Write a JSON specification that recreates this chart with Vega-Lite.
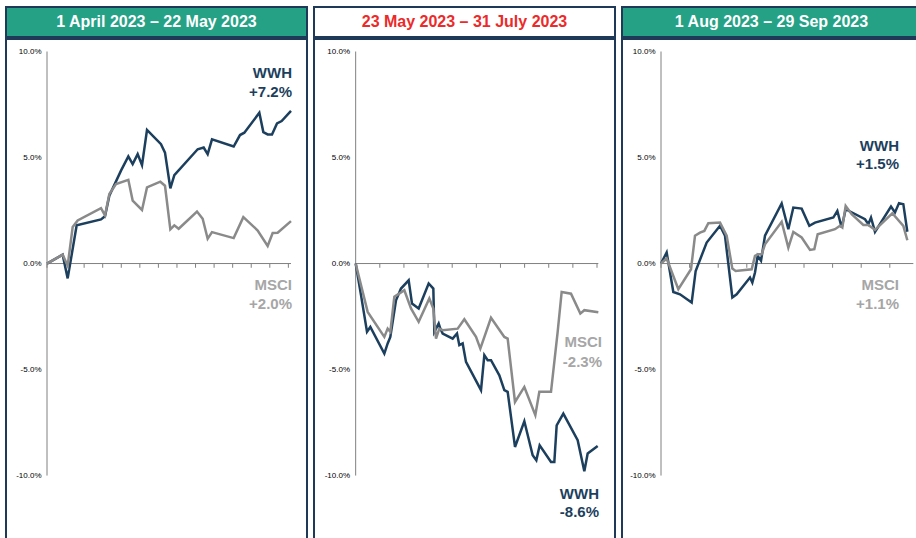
{
  "$schema": "https://vega.github.io/schema/vega-lite/v6.json",
  "background": "white",
  "padding": {"left": 5, "top": 6, "right": 0, "bottom": 0},
  "config": {"font": "Liberation Sans", "view": {"stroke": null}},
  "datasets": {
    "headers": [
      {"p": 1, "label": "1 April 2023 – 22 May 2023"},
      {"p": 2, "label": "23 May 2023 – 31 July 2023"},
      {"p": 3, "label": "1 Aug 2023 – 29 Sep 2023"}
    ],
    "ticks": [
      {"p": 1, "t": 0}, {"p": 1, "t": 55.7}, {"p": 1, "t": 111.4}, {"p": 1, "t": 167.1}, {"p": 1, "t": 222.8}, {"p": 1, "t": 278.5}, {"p": 1, "t": 334.2}, {"p": 1, "t": 389.9}, {"p": 1, "t": 445.6}, {"p": 1, "t": 501.3}, {"p": 1, "t": 557}, {"p": 1, "t": 612.7}, {"p": 1, "t": 668.4}, {"p": 1, "t": 724.1},
      {"p": 2, "t": 0}, {"p": 2, "t": 72.4}, {"p": 2, "t": 144.8}, {"p": 2, "t": 217.2}, {"p": 2, "t": 289.6}, {"p": 2, "t": 362}, {"p": 2, "t": 434.4}, {"p": 2, "t": 506.8}, {"p": 2, "t": 579.2}, {"p": 2, "t": 651.6}, {"p": 2, "t": 724},
      {"p": 3, "t": 0}, {"p": 3, "t": 85.8}, {"p": 3, "t": 171.6}, {"p": 3, "t": 257.4}, {"p": 3, "t": 343.2}, {"p": 3, "t": 429}, {"p": 3, "t": 514.8}, {"p": 3, "t": 600.6}, {"p": 3, "t": 686.4}
    ],
    "labels": [
      {"p": 1, "s": "WWH", "t": 735, "v": 8.97, "text": "WWH"},
      {"p": 1, "s": "WWH", "t": 735, "v": 8.08, "text": "+7.2%"},
      {"p": 1, "s": "MSCI", "t": 735, "v": -1.03, "text": "MSCI"},
      {"p": 1, "s": "MSCI", "t": 735, "v": -1.92, "text": "+2.0%"},
      {"p": 2, "s": "MSCI", "t": 739, "v": -3.72, "text": "MSCI"},
      {"p": 2, "s": "MSCI", "t": 739, "v": -4.63, "text": "-2.3%"},
      {"p": 2, "s": "WWH", "t": 730, "v": -10.87, "text": "WWH"},
      {"p": 2, "s": "WWH", "t": 730, "v": -11.74, "text": "-8.6%"},
      {"p": 3, "s": "WWH", "t": 714, "v": 5.56, "text": "WWH"},
      {"p": 3, "s": "WWH", "t": 714, "v": 4.69, "text": "+1.5%"},
      {"p": 3, "s": "MSCI", "t": 714, "v": -1.0, "text": "MSCI"},
      {"p": 3, "s": "MSCI", "t": 714, "v": -1.91, "text": "+1.1%"}
    ],
    "series": [
      {"p": 1, "s": "WWH", "t": 0, "v": 0}, {"p": 1, "s": "WWH", "t": 47, "v": 0.42}, {"p": 1, "s": "WWH", "t": 62, "v": -0.7}, {"p": 1, "s": "WWH", "t": 89, "v": 1.8}, {"p": 1, "s": "WWH", "t": 162, "v": 2.08}, {"p": 1, "s": "WWH", "t": 174, "v": 2.23}, {"p": 1, "s": "WWH", "t": 187, "v": 3.2}, {"p": 1, "s": "WWH", "t": 222, "v": 4.38}, {"p": 1, "s": "WWH", "t": 244, "v": 5.05}, {"p": 1, "s": "WWH", "t": 257, "v": 4.69}, {"p": 1, "s": "WWH", "t": 272, "v": 5.16}, {"p": 1, "s": "WWH", "t": 285, "v": 4.64}, {"p": 1, "s": "WWH", "t": 300, "v": 6.3}, {"p": 1, "s": "WWH", "t": 342, "v": 5.63}, {"p": 1, "s": "WWH", "t": 354, "v": 5.23}, {"p": 1, "s": "WWH", "t": 370, "v": 3.55}, {"p": 1, "s": "WWH", "t": 382, "v": 4.17}, {"p": 1, "s": "WWH", "t": 452, "v": 5.39}, {"p": 1, "s": "WWH", "t": 470, "v": 5.47}, {"p": 1, "s": "WWH", "t": 482, "v": 5.16}, {"p": 1, "s": "WWH", "t": 495, "v": 5.86}, {"p": 1, "s": "WWH", "t": 560, "v": 5.52}, {"p": 1, "s": "WWH", "t": 579, "v": 6.06}, {"p": 1, "s": "WWH", "t": 592, "v": 6.17}, {"p": 1, "s": "WWH", "t": 637, "v": 7.11}, {"p": 1, "s": "WWH", "t": 649, "v": 6.2}, {"p": 1, "s": "WWH", "t": 662, "v": 6.09}, {"p": 1, "s": "WWH", "t": 675, "v": 6.09}, {"p": 1, "s": "WWH", "t": 690, "v": 6.61}, {"p": 1, "s": "WWH", "t": 704, "v": 6.72}, {"p": 1, "s": "WWH", "t": 732, "v": 7.2},
      {"p": 1, "s": "MSCI", "t": 0, "v": 0}, {"p": 1, "s": "MSCI", "t": 47, "v": 0.42}, {"p": 1, "s": "MSCI", "t": 62, "v": -0.1}, {"p": 1, "s": "MSCI", "t": 77, "v": 1.72}, {"p": 1, "s": "MSCI", "t": 92, "v": 2.03}, {"p": 1, "s": "MSCI", "t": 162, "v": 2.61}, {"p": 1, "s": "MSCI", "t": 174, "v": 2.27}, {"p": 1, "s": "MSCI", "t": 187, "v": 3.28}, {"p": 1, "s": "MSCI", "t": 207, "v": 3.75}, {"p": 1, "s": "MSCI", "t": 244, "v": 3.95}, {"p": 1, "s": "MSCI", "t": 257, "v": 2.97}, {"p": 1, "s": "MSCI", "t": 285, "v": 2.53}, {"p": 1, "s": "MSCI", "t": 300, "v": 3.59}, {"p": 1, "s": "MSCI", "t": 340, "v": 3.86}, {"p": 1, "s": "MSCI", "t": 354, "v": 3.67}, {"p": 1, "s": "MSCI", "t": 370, "v": 1.61}, {"p": 1, "s": "MSCI", "t": 382, "v": 1.8}, {"p": 1, "s": "MSCI", "t": 395, "v": 1.64}, {"p": 1, "s": "MSCI", "t": 450, "v": 2.45}, {"p": 1, "s": "MSCI", "t": 467, "v": 2.11}, {"p": 1, "s": "MSCI", "t": 482, "v": 1.17}, {"p": 1, "s": "MSCI", "t": 495, "v": 1.48}, {"p": 1, "s": "MSCI", "t": 560, "v": 1.2}, {"p": 1, "s": "MSCI", "t": 589, "v": 2.19}, {"p": 1, "s": "MSCI", "t": 632, "v": 1.56}, {"p": 1, "s": "MSCI", "t": 662, "v": 0.83}, {"p": 1, "s": "MSCI", "t": 677, "v": 1.44}, {"p": 1, "s": "MSCI", "t": 692, "v": 1.45}, {"p": 1, "s": "MSCI", "t": 732, "v": 2.0},
      {"p": 2, "s": "WWH", "t": 0, "v": 0}, {"p": 2, "s": "WWH", "t": 16, "v": -1.49}, {"p": 2, "s": "WWH", "t": 34, "v": -3.22}, {"p": 2, "s": "WWH", "t": 44, "v": -2.99}, {"p": 2, "s": "WWH", "t": 86, "v": -4.25}, {"p": 2, "s": "WWH", "t": 96, "v": -3.77}, {"p": 2, "s": "WWH", "t": 104, "v": -3.46}, {"p": 2, "s": "WWH", "t": 121, "v": -1.73}, {"p": 2, "s": "WWH", "t": 136, "v": -1.18}, {"p": 2, "s": "WWH", "t": 159, "v": -0.79}, {"p": 2, "s": "WWH", "t": 169, "v": -1.89}, {"p": 2, "s": "WWH", "t": 189, "v": -2.12}, {"p": 2, "s": "WWH", "t": 219, "v": -0.94}, {"p": 2, "s": "WWH", "t": 233, "v": -1.18}, {"p": 2, "s": "WWH", "t": 236, "v": -3.22}, {"p": 2, "s": "WWH", "t": 249, "v": -2.83}, {"p": 2, "s": "WWH", "t": 254, "v": -3.07}, {"p": 2, "s": "WWH", "t": 261, "v": -3.3}, {"p": 2, "s": "WWH", "t": 291, "v": -3.54}, {"p": 2, "s": "WWH", "t": 304, "v": -3.3}, {"p": 2, "s": "WWH", "t": 311, "v": -3.85}, {"p": 2, "s": "WWH", "t": 321, "v": -3.77}, {"p": 2, "s": "WWH", "t": 331, "v": -4.64}, {"p": 2, "s": "WWH", "t": 376, "v": -5.97}, {"p": 2, "s": "WWH", "t": 386, "v": -4.32}, {"p": 2, "s": "WWH", "t": 396, "v": -4.56}, {"p": 2, "s": "WWH", "t": 406, "v": -4.56}, {"p": 2, "s": "WWH", "t": 431, "v": -5.27}, {"p": 2, "s": "WWH", "t": 446, "v": -5.97}, {"p": 2, "s": "WWH", "t": 456, "v": -6.05}, {"p": 2, "s": "WWH", "t": 478, "v": -8.65}, {"p": 2, "s": "WWH", "t": 506, "v": -7.44}, {"p": 2, "s": "WWH", "t": 531, "v": -9.04}, {"p": 2, "s": "WWH", "t": 542, "v": -9.28}, {"p": 2, "s": "WWH", "t": 552, "v": -8.57}, {"p": 2, "s": "WWH", "t": 586, "v": -9.36}, {"p": 2, "s": "WWH", "t": 596, "v": -9.36}, {"p": 2, "s": "WWH", "t": 603, "v": -7.63}, {"p": 2, "s": "WWH", "t": 623, "v": -7.08}, {"p": 2, "s": "WWH", "t": 666, "v": -8.33}, {"p": 2, "s": "WWH", "t": 686, "v": -9.8}, {"p": 2, "s": "WWH", "t": 696, "v": -8.96}, {"p": 2, "s": "WWH", "t": 726, "v": -8.6},
      {"p": 2, "s": "MSCI", "t": 0, "v": 0}, {"p": 2, "s": "MSCI", "t": 16, "v": -1.02}, {"p": 2, "s": "MSCI", "t": 36, "v": -2.28}, {"p": 2, "s": "MSCI", "t": 86, "v": -3.46}, {"p": 2, "s": "MSCI", "t": 96, "v": -3.07}, {"p": 2, "s": "MSCI", "t": 104, "v": -3.22}, {"p": 2, "s": "MSCI", "t": 116, "v": -1.57}, {"p": 2, "s": "MSCI", "t": 146, "v": -1.26}, {"p": 2, "s": "MSCI", "t": 166, "v": -2.12}, {"p": 2, "s": "MSCI", "t": 189, "v": -2.75}, {"p": 2, "s": "MSCI", "t": 221, "v": -1.65}, {"p": 2, "s": "MSCI", "t": 233, "v": -2.12}, {"p": 2, "s": "MSCI", "t": 241, "v": -3.54}, {"p": 2, "s": "MSCI", "t": 251, "v": -3.07}, {"p": 2, "s": "MSCI", "t": 261, "v": -3.14}, {"p": 2, "s": "MSCI", "t": 306, "v": -3.07}, {"p": 2, "s": "MSCI", "t": 326, "v": -2.63}, {"p": 2, "s": "MSCI", "t": 361, "v": -3.46}, {"p": 2, "s": "MSCI", "t": 374, "v": -4.01}, {"p": 2, "s": "MSCI", "t": 406, "v": -2.56}, {"p": 2, "s": "MSCI", "t": 446, "v": -3.46}, {"p": 2, "s": "MSCI", "t": 456, "v": -3.54}, {"p": 2, "s": "MSCI", "t": 478, "v": -6.53}, {"p": 2, "s": "MSCI", "t": 506, "v": -5.82}, {"p": 2, "s": "MSCI", "t": 539, "v": -7.15}, {"p": 2, "s": "MSCI", "t": 551, "v": -6.05}, {"p": 2, "s": "MSCI", "t": 586, "v": -6.05}, {"p": 2, "s": "MSCI", "t": 606, "v": -3.22}, {"p": 2, "s": "MSCI", "t": 618, "v": -1.34}, {"p": 2, "s": "MSCI", "t": 646, "v": -1.42}, {"p": 2, "s": "MSCI", "t": 674, "v": -2.36}, {"p": 2, "s": "MSCI", "t": 686, "v": -2.2}, {"p": 2, "s": "MSCI", "t": 728, "v": -2.3},
      {"p": 3, "s": "WWH", "t": 0, "v": 0}, {"p": 3, "s": "WWH", "t": 17, "v": 0.52}, {"p": 3, "s": "WWH", "t": 37, "v": -1.34}, {"p": 3, "s": "WWH", "t": 57, "v": -1.45}, {"p": 3, "s": "WWH", "t": 92, "v": -1.84}, {"p": 3, "s": "WWH", "t": 104, "v": -0.35}, {"p": 3, "s": "WWH", "t": 137, "v": 0.99}, {"p": 3, "s": "WWH", "t": 177, "v": 1.78}, {"p": 3, "s": "WWH", "t": 192, "v": 1.31}, {"p": 3, "s": "WWH", "t": 214, "v": -1.6}, {"p": 3, "s": "WWH", "t": 227, "v": -1.45}, {"p": 3, "s": "WWH", "t": 267, "v": -0.66}, {"p": 3, "s": "WWH", "t": 274, "v": -0.9}, {"p": 3, "s": "WWH", "t": 282, "v": -0.42}, {"p": 3, "s": "WWH", "t": 290, "v": 0.36}, {"p": 3, "s": "WWH", "t": 300, "v": 0.13}, {"p": 3, "s": "WWH", "t": 312, "v": 1.31}, {"p": 3, "s": "WWH", "t": 362, "v": 2.83}, {"p": 3, "s": "WWH", "t": 382, "v": 1.62}, {"p": 3, "s": "WWH", "t": 397, "v": 2.64}, {"p": 3, "s": "WWH", "t": 422, "v": 2.59}, {"p": 3, "s": "WWH", "t": 445, "v": 1.78}, {"p": 3, "s": "WWH", "t": 462, "v": 1.93}, {"p": 3, "s": "WWH", "t": 517, "v": 2.17}, {"p": 3, "s": "WWH", "t": 529, "v": 2.48}, {"p": 3, "s": "WWH", "t": 542, "v": 1.7}, {"p": 3, "s": "WWH", "t": 554, "v": 2.56}, {"p": 3, "s": "WWH", "t": 612, "v": 2.09}, {"p": 3, "s": "WWH", "t": 622, "v": 1.86}, {"p": 3, "s": "WWH", "t": 630, "v": 2.17}, {"p": 3, "s": "WWH", "t": 642, "v": 1.49}, {"p": 3, "s": "WWH", "t": 690, "v": 2.69}, {"p": 3, "s": "WWH", "t": 702, "v": 2.41}, {"p": 3, "s": "WWH", "t": 714, "v": 2.85}, {"p": 3, "s": "WWH", "t": 727, "v": 2.8}, {"p": 3, "s": "WWH", "t": 739, "v": 1.5},
      {"p": 3, "s": "MSCI", "t": 0, "v": 0}, {"p": 3, "s": "MSCI", "t": 17, "v": 0.24}, {"p": 3, "s": "MSCI", "t": 52, "v": -1.21}, {"p": 3, "s": "MSCI", "t": 90, "v": -0.27}, {"p": 3, "s": "MSCI", "t": 102, "v": 1.31}, {"p": 3, "s": "MSCI", "t": 117, "v": 1.46}, {"p": 3, "s": "MSCI", "t": 130, "v": 1.54}, {"p": 3, "s": "MSCI", "t": 142, "v": 1.9}, {"p": 3, "s": "MSCI", "t": 177, "v": 1.93}, {"p": 3, "s": "MSCI", "t": 197, "v": 1.31}, {"p": 3, "s": "MSCI", "t": 214, "v": -0.24}, {"p": 3, "s": "MSCI", "t": 224, "v": -0.35}, {"p": 3, "s": "MSCI", "t": 272, "v": -0.27}, {"p": 3, "s": "MSCI", "t": 282, "v": 0.36}, {"p": 3, "s": "MSCI", "t": 292, "v": 0.44}, {"p": 3, "s": "MSCI", "t": 302, "v": 0.44}, {"p": 3, "s": "MSCI", "t": 312, "v": 0.91}, {"p": 3, "s": "MSCI", "t": 362, "v": 1.97}, {"p": 3, "s": "MSCI", "t": 382, "v": 0.75}, {"p": 3, "s": "MSCI", "t": 397, "v": 1.49}, {"p": 3, "s": "MSCI", "t": 422, "v": 1.23}, {"p": 3, "s": "MSCI", "t": 447, "v": 0.64}, {"p": 3, "s": "MSCI", "t": 460, "v": 0.68}, {"p": 3, "s": "MSCI", "t": 470, "v": 1.38}, {"p": 3, "s": "MSCI", "t": 522, "v": 1.62}, {"p": 3, "s": "MSCI", "t": 537, "v": 1.78}, {"p": 3, "s": "MSCI", "t": 544, "v": 1.7}, {"p": 3, "s": "MSCI", "t": 554, "v": 2.72}, {"p": 3, "s": "MSCI", "t": 572, "v": 2.33}, {"p": 3, "s": "MSCI", "t": 607, "v": 1.82}, {"p": 3, "s": "MSCI", "t": 622, "v": 1.82}, {"p": 3, "s": "MSCI", "t": 642, "v": 1.59}, {"p": 3, "s": "MSCI", "t": 694, "v": 2.37}, {"p": 3, "s": "MSCI", "t": 727, "v": 1.78}, {"p": 3, "s": "MSCI", "t": 739, "v": 1.1}
    ]
  },
  "spacing": 5,
  "hconcat": [
    {
      "spacing": 0,
      "vconcat": [
        {
          "width": 301, "height": 30,
          "view": {"fill": "#25a186", "stroke": "#1e3a58", "strokeWidth": 2},
          "data": {"name": "headers"},
          "transform": [{"filter": "datum.p == 1"}],
          "mark": {"type": "text", "fontSize": 16, "fontWeight": "bold", "color": "#ffffff", "baseline": "middle", "align": "center"},
          "encoding": {"text": {"field": "label"}}
        },
        {
          "width": 301, "height": 504,
          "view": {"fill": "#ffffff", "stroke": "#1e3a58", "strokeWidth": 2},
          "layer": [
            {
              "data": {"values": [{}]},
              "mark": {"type": "rule", "color": "#808080", "strokeWidth": 1},
              "encoding": {
                "x": {"datum": 0, "type": "quantitative", "scale": {"domain": [-123, 780], "nice": false, "zero": false}, "axis": null},
                "y": {"datum": -10, "type": "quantitative", "scale": {"domain": [-13.18, 10.59], "nice": false, "zero": false},
                  "axis": {"orient": "left", "offset": -35, "domain": false, "ticks": false, "grid": false, "labelPadding": 0, "values": [-10, -5, 0, 5, 10], "labelFontSize": 8, "labelColor": "#000000", "title": null, "labelExpr": "(datum.value < 0 ? '-' : '') + format(abs(datum.value), '.1f') + '%'"}},
                "y2": {"datum": 10}
              }
            },
            {
              "data": {"values": [{}]},
              "mark": {"type": "rule", "color": "#808080", "strokeWidth": 1},
              "encoding": {
                "x": {"datum": 0, "type": "quantitative"},
                "x2": {"datum": 732},
                "y": {"datum": 0, "type": "quantitative"}
              }
            },
            {
              "data": {"name": "ticks"},
              "transform": [{"filter": "datum.p == 1"}],
              "mark": {"type": "rule", "color": "#808080", "strokeWidth": 1},
              "encoding": {
                "x": {"field": "t", "type": "quantitative"},
                "y": {"datum": 0, "type": "quantitative"},
                "y2": {"datum": -0.2}
              }
            },
            {
              "data": {"name": "series"},
              "transform": [{"filter": "datum.p == 1 && datum.s == 'WWH'"}],
              "mark": {"type": "line", "color": "#1c3f5e", "strokeWidth": 2.5},
              "encoding": {"x": {"field": "t", "type": "quantitative"}, "y": {"field": "v", "type": "quantitative"}}
            },
            {
              "data": {"name": "series"},
              "transform": [{"filter": "datum.p == 1 && datum.s == 'MSCI'"}],
              "mark": {"type": "line", "color": "#8a8a8a", "strokeWidth": 2.5},
              "encoding": {"x": {"field": "t", "type": "quantitative"}, "y": {"field": "v", "type": "quantitative"}}
            },
            {
              "data": {"name": "labels"},
              "transform": [{"filter": "datum.p == 1 && datum.s == 'WWH'"}],
              "mark": {"type": "text", "color": "#1c3f5e", "fontSize": 15, "fontWeight": "bold", "align": "right", "baseline": "middle"},
              "encoding": {"x": {"field": "t", "type": "quantitative"}, "y": {"field": "v", "type": "quantitative"}, "text": {"field": "text"}}
            },
            {
              "data": {"name": "labels"},
              "transform": [{"filter": "datum.p == 1 && datum.s == 'MSCI'"}],
              "mark": {"type": "text", "color": "#a6a6a6", "fontSize": 15, "fontWeight": "bold", "align": "right", "baseline": "middle"},
              "encoding": {"x": {"field": "t", "type": "quantitative"}, "y": {"field": "v", "type": "quantitative"}, "text": {"field": "text"}}
            }
          ]
        }
      ]
    },
    {
      "spacing": 0,
      "vconcat": [
        {
          "width": 301, "height": 30,
          "view": {"fill": "#ffffff", "stroke": "#1e3a58", "strokeWidth": 2},
          "data": {"name": "headers"},
          "transform": [{"filter": "datum.p == 2"}],
          "mark": {"type": "text", "fontSize": 16, "fontWeight": "bold", "color": "#ec2a2a", "baseline": "middle", "align": "center"},
          "encoding": {"text": {"field": "label"}}
        },
        {
          "width": 301, "height": 504,
          "view": {"fill": "#ffffff", "stroke": "#1e3a58", "strokeWidth": 2},
          "layer": [
            {
              "data": {"values": [{}]},
              "mark": {"type": "rule", "color": "#808080", "strokeWidth": 1},
              "encoding": {
                "x": {"datum": 0, "type": "quantitative", "scale": {"domain": [-125, 778], "nice": false, "zero": false}, "axis": null},
                "y": {"datum": -10, "type": "quantitative", "scale": {"domain": [-13.18, 10.59], "nice": false, "zero": false},
                  "axis": {"orient": "left", "offset": -35.5, "domain": false, "ticks": false, "grid": false, "labelPadding": 0, "values": [-10, -5, 0, 5, 10], "labelFontSize": 8, "labelColor": "#000000", "title": null, "labelExpr": "(datum.value < 0 ? '-' : '') + format(abs(datum.value), '.1f') + '%'"}},
                "y2": {"datum": 10}
              }
            },
            {
              "data": {"values": [{}]},
              "mark": {"type": "rule", "color": "#808080", "strokeWidth": 1},
              "encoding": {
                "x": {"datum": 0, "type": "quantitative"},
                "x2": {"datum": 728},
                "y": {"datum": 0, "type": "quantitative"}
              }
            },
            {
              "data": {"name": "ticks"},
              "transform": [{"filter": "datum.p == 2"}],
              "mark": {"type": "rule", "color": "#808080", "strokeWidth": 1},
              "encoding": {
                "x": {"field": "t", "type": "quantitative"},
                "y": {"datum": 0, "type": "quantitative"},
                "y2": {"datum": -0.2}
              }
            },
            {
              "data": {"name": "series"},
              "transform": [{"filter": "datum.p == 2 && datum.s == 'WWH'"}],
              "mark": {"type": "line", "color": "#1c3f5e", "strokeWidth": 2.5},
              "encoding": {"x": {"field": "t", "type": "quantitative"}, "y": {"field": "v", "type": "quantitative"}}
            },
            {
              "data": {"name": "series"},
              "transform": [{"filter": "datum.p == 2 && datum.s == 'MSCI'"}],
              "mark": {"type": "line", "color": "#8a8a8a", "strokeWidth": 2.5},
              "encoding": {"x": {"field": "t", "type": "quantitative"}, "y": {"field": "v", "type": "quantitative"}}
            },
            {
              "data": {"name": "labels"},
              "transform": [{"filter": "datum.p == 2 && datum.s == 'WWH'"}],
              "mark": {"type": "text", "color": "#1c3f5e", "fontSize": 15, "fontWeight": "bold", "align": "right", "baseline": "middle"},
              "encoding": {"x": {"field": "t", "type": "quantitative"}, "y": {"field": "v", "type": "quantitative"}, "text": {"field": "text"}}
            },
            {
              "data": {"name": "labels"},
              "transform": [{"filter": "datum.p == 2 && datum.s == 'MSCI'"}],
              "mark": {"type": "text", "color": "#a6a6a6", "fontSize": 15, "fontWeight": "bold", "align": "right", "baseline": "middle"},
              "encoding": {"x": {"field": "t", "type": "quantitative"}, "y": {"field": "v", "type": "quantitative"}, "text": {"field": "text"}}
            }
          ]
        }
      ]
    },
    {
      "spacing": 0,
      "vconcat": [
        {
          "width": 299, "height": 30,
          "view": {"fill": "#25a186", "stroke": "#1e3a58", "strokeWidth": 2},
          "data": {"name": "headers"},
          "transform": [{"filter": "datum.p == 3"}],
          "mark": {"type": "text", "fontSize": 16, "fontWeight": "bold", "color": "#ffffff", "baseline": "middle", "align": "center"},
          "encoding": {"text": {"field": "label"}}
        },
        {
          "width": 299, "height": 504,
          "view": {"fill": "#ffffff", "stroke": "#1e3a58", "strokeWidth": 2},
          "layer": [
            {
              "data": {"values": [{}]},
              "mark": {"type": "rule", "color": "#808080", "strokeWidth": 1},
              "encoding": {
                "x": {"datum": 0, "type": "quantitative", "scale": {"domain": [-117, 780], "nice": false, "zero": false}, "axis": null},
                "y": {"datum": -10, "type": "quantitative", "scale": {"domain": [-13.18, 10.59], "nice": false, "zero": false},
                  "axis": {"orient": "left", "offset": -33, "domain": false, "ticks": false, "grid": false, "labelPadding": 0, "values": [-10, -5, 0, 5, 10], "labelFontSize": 8, "labelColor": "#000000", "title": null, "labelExpr": "(datum.value < 0 ? '-' : '') + format(abs(datum.value), '.1f') + '%'"}},
                "y2": {"datum": 10}
              }
            },
            {
              "data": {"values": [{}]},
              "mark": {"type": "rule", "color": "#808080", "strokeWidth": 1},
              "encoding": {
                "x": {"datum": 0, "type": "quantitative"},
                "x2": {"datum": 757},
                "y": {"datum": 0, "type": "quantitative"}
              }
            },
            {
              "data": {"name": "ticks"},
              "transform": [{"filter": "datum.p == 3"}],
              "mark": {"type": "rule", "color": "#808080", "strokeWidth": 1},
              "encoding": {
                "x": {"field": "t", "type": "quantitative"},
                "y": {"datum": 0, "type": "quantitative"},
                "y2": {"datum": -0.2}
              }
            },
            {
              "data": {"name": "series"},
              "transform": [{"filter": "datum.p == 3 && datum.s == 'WWH'"}],
              "mark": {"type": "line", "color": "#1c3f5e", "strokeWidth": 2.5},
              "encoding": {"x": {"field": "t", "type": "quantitative"}, "y": {"field": "v", "type": "quantitative"}}
            },
            {
              "data": {"name": "series"},
              "transform": [{"filter": "datum.p == 3 && datum.s == 'MSCI'"}],
              "mark": {"type": "line", "color": "#8a8a8a", "strokeWidth": 2.5},
              "encoding": {"x": {"field": "t", "type": "quantitative"}, "y": {"field": "v", "type": "quantitative"}}
            },
            {
              "data": {"name": "labels"},
              "transform": [{"filter": "datum.p == 3 && datum.s == 'WWH'"}],
              "mark": {"type": "text", "color": "#1c3f5e", "fontSize": 15, "fontWeight": "bold", "align": "right", "baseline": "middle"},
              "encoding": {"x": {"field": "t", "type": "quantitative"}, "y": {"field": "v", "type": "quantitative"}, "text": {"field": "text"}}
            },
            {
              "data": {"name": "labels"},
              "transform": [{"filter": "datum.p == 3 && datum.s == 'MSCI'"}],
              "mark": {"type": "text", "color": "#a6a6a6", "fontSize": 15, "fontWeight": "bold", "align": "right", "baseline": "middle"},
              "encoding": {"x": {"field": "t", "type": "quantitative"}, "y": {"field": "v", "type": "quantitative"}, "text": {"field": "text"}}
            }
          ]
        }
      ]
    }
  ]
}
